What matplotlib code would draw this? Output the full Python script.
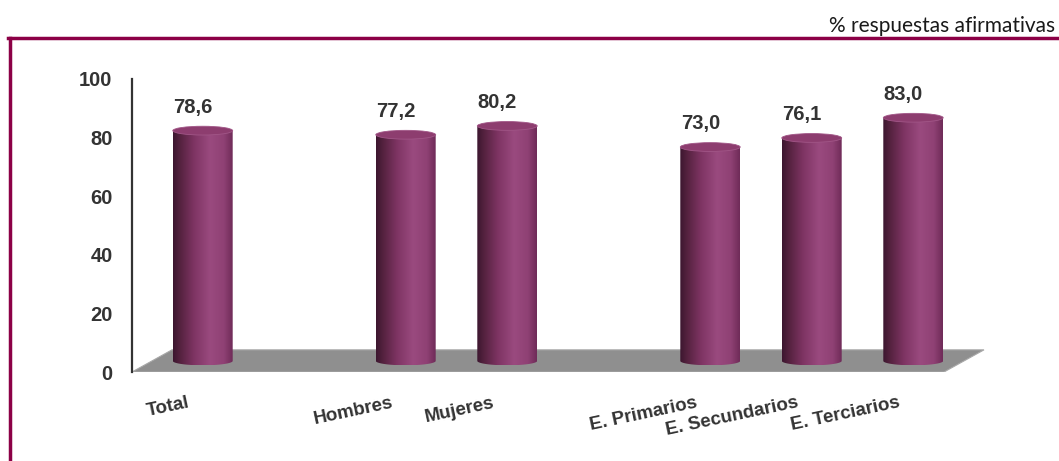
import matplotlib.pyplot as plt
import numpy as np
from matplotlib.colors import LinearSegmentedColormap
from matplotlib.patches import Polygon, Ellipse
from matplotlib.lines import Line2D

# Porcentaje de respuestas afirmativas por grupo
categorias = ['Total', '', 'Hombres', 'Mujeres', '', 'E. Primarios', 'E. Secundarios', 'E. Terciarios']
valores = [78.6, None, 77.2, 80.2, None, 73.0, 76.1, 83.0]
yticks = [0, 20, 40, 60, 80, 100]

W, H = 1059, 461
fig = plt.figure(figsize=(W / 100, H / 100), dpi=100, facecolor='white')
plt.rcParams['font.family'] = ['Liberation Sans', 'DejaVu Sans']

# ejes: 0 en la arista delantera del suelo, una categoría = 101.5 px
ax = fig.add_axes([132 / W, (H - 372) / H, 9 * 101.5 / W, 293 / H])
ax.set_xlim(-0.5, 8.5)
ax.set_ylim(0, 100)
ax.patch.set_visible(False)

# profundidad de la perspectiva (en unidades de datos)
prof_x = 0.394
prof_y = 7.56
n = len(categorias)

# suelo gris
suelo = Polygon([(-0.5, 0), (n - 0.5, 0), (n - 0.5 + prof_x, prof_y), (-0.5 + prof_x, prof_y)],
                closed=True, facecolor='#8f8f8f', edgecolor='#a8a8a8', lw=0.8, zorder=1)
ax.add_patch(suelo)

cmap = LinearSegmentedColormap.from_list('cil', [
    (0.0, '#3c162f'), (0.12, '#55223f'), (0.35, '#7e3463'),
    (0.62, '#9a4a7f'), (0.85, '#8f4174'), (1.0, '#6f2b58')])
grad = np.linspace(0, 1, 256).reshape(1, -1)

a = 0.295          # semieje horizontal del cilindro
b = 1.5            # semieje vertical de las elipses
base = prof_y / 2

for i, v in enumerate(valores):
    if v is None:
        continue
    cx = i + prof_x / 2
    top = base + v
    t = np.linspace(np.pi, 2 * np.pi, 60)
    verts = np.column_stack([cx + a * np.cos(t), base + b * np.sin(t)])
    verts = np.vstack([[cx - a, top], verts, [cx + a, top]])
    cuerpo = Polygon(verts, closed=True, facecolor='none', edgecolor='none')
    ax.add_patch(cuerpo)
    im = ax.imshow(grad, cmap=cmap, aspect='auto', extent=(cx - a, cx + a, base - b, top),
                   zorder=2, interpolation='bilinear')
    im.set_clip_path(cuerpo)
    ax.add_patch(Ellipse((cx, top), 2 * a, 2 * b, facecolor='#8d3d6f',
                         edgecolor='#a15687', lw=0.6, zorder=3))
    ax.annotate(f'{v:.1f}'.replace('.', ','), (i + 0.1, top + b), xytext=(0, 7),
                textcoords='offset points', ha='center', va='bottom',
                fontsize=14.5, fontweight='bold', color='#333333')

ax.set_xlim(-0.5, 8.5)
ax.set_ylim(0, 100)

# eje vertical
for s in ['top', 'right', 'bottom']:
    ax.spines[s].set_visible(False)
ax.spines['left'].set_color('#333333')
ax.spines['left'].set_linewidth(1.6)
ax.set_yticks(yticks)
ax.tick_params(axis='y', length=0, pad=14, labelsize=14.5, labelcolor='#333333')
for lab in ax.get_yticklabels():
    lab.set_fontweight('bold')

ax.set_xticks([i + 0.05 for i in range(n)])
ax.set_xticklabels(categorias, rotation=12, ha='right', rotation_mode='anchor',
                   fontsize=13.5, fontweight='bold', color='#333333')
ax.tick_params(axis='x', length=0, pad=16)

# marco granate
marco = '#8c0046'
fig.add_artist(Line2D([8 / W, 1], [1 - 38.5 / H, 1 - 38.5 / H], color=marco, lw=2.5))
fig.add_artist(Line2D([9.5 / W, 9.5 / W], [0, 1 - 38.5 / H], color=marco, lw=2.5))

fig.text(1055 / W, 1 - 32 / H, '% respuestas afirmativas', ha='right', va='baseline',
         fontsize=15, family='Lato', color='#1a1a1a')

plt.savefig('out.png', dpi=100, facecolor='white')
